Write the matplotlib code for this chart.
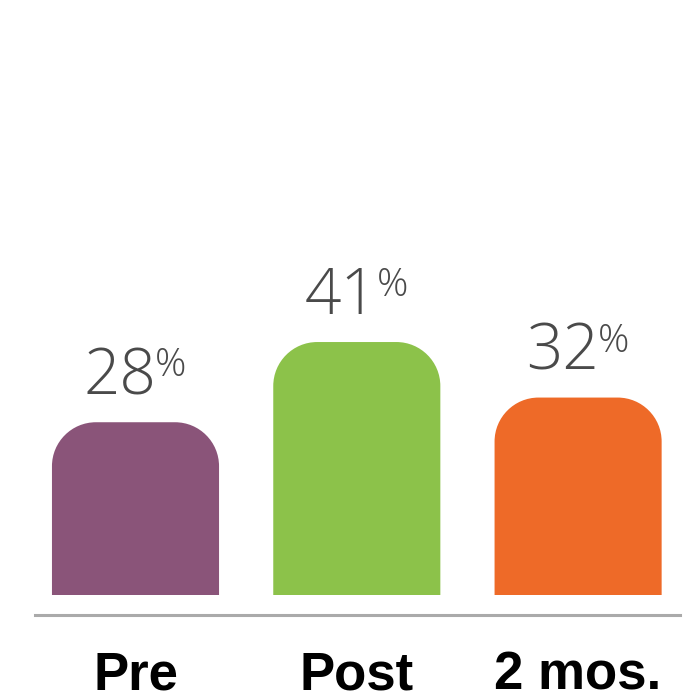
import matplotlib
matplotlib.use("Agg")
import matplotlib.pyplot as plt
from matplotlib.path import Path
from matplotlib.patches import PathPatch

# Data
categories = ["Pre", "Post", "2 mos."]
values = [28, 41, 32]
colors = ["#8a5479", "#8cc24a", "#ee6a28"]

W, H, DPI = 692, 696, 100
PX_PER_UNIT = 6.17          # vertical pixels per percentage point
BASE_PX = 101               # distance of the zero line from the figure bottom
SLOT_PX = 221.3             # horizontal pixels per category
FIRST_PX = 135.5            # centre of first bar from the left edge

fig = plt.figure(figsize=(W / DPI, H / DPI), dpi=DPI)
ax = fig.add_axes([0, 0, 1, 1])
ax.set_xlim(-FIRST_PX / SLOT_PX, (W - FIRST_PX) / SLOT_PX)
ax.set_ylim(-BASE_PX / PX_PER_UNIT, (H - BASE_PX) / PX_PER_UNIT)
ax.axis("off")

x = list(range(len(categories)))
bars = ax.bar(x, values, width=0.755, color=colors)

# Replace the square bar tops with rounded ones
radius_px = 44
rx = radius_px / SLOT_PX
ry = radius_px / PX_PER_UNIT
k = 0.5523
for b in bars:
    x0, y0 = b.get_x(), b.get_y()
    w, h = b.get_width(), b.get_height()
    x1, y1 = x0 + w, y0 + h
    verts = [
        (x0, y0),
        (x0, y1 - ry),
        (x0, y1 - ry + k * ry), (x0 + rx - k * rx, y1), (x0 + rx, y1),
        (x1 - rx, y1),
        (x1 - rx + k * rx, y1), (x1, y1 - ry + k * ry), (x1, y1 - ry),
        (x1, y0),
        (x0, y0),
    ]
    codes = [Path.MOVETO, Path.LINETO,
             Path.CURVE4, Path.CURVE4, Path.CURVE4,
             Path.LINETO,
             Path.CURVE4, Path.CURVE4, Path.CURVE4,
             Path.LINETO, Path.CLOSEPOLY]
    patch = PathPatch(Path(verts, codes), facecolor=b.get_facecolor(),
                      edgecolor="none")
    b.set_visible(False)
    ax.add_patch(patch)

# Baseline below the bars
ax.axhline(-20 / PX_PER_UNIT, xmin=35 / W, xmax=680 / W,
           color="#aaaaaa", lw=2.2)

# Category labels
for xi, cat in zip(x, categories):
    ax.text(xi, -95 / PX_PER_UNIT, cat, ha="center", va="baseline",
            fontsize=38, fontweight="bold", family="Liberation Sans",
            color="#000000")

# Value labels: large number with a superscript percent sign
fig.canvas.draw()
renderer = fig.canvas.get_renderer()
for xi, v in zip(x, values):
    ybase = v + 28 / PX_PER_UNIT
    tnum = ax.text(xi, ybase, f"{v}", ha="left", va="baseline",
                   fontsize=46, fontweight="light", family="Open Sans",
                   color="#4a4a4a")
    tpct = ax.text(xi, ybase, "%", ha="left", va="baseline",
                   fontsize=28, fontweight="light", family="Open Sans",
                   color="#4a4a4a")
    wn = tnum.get_window_extent(renderer).width
    wp = tpct.get_window_extent(renderer).width
    total = wn + wp
    cx = ax.transData.transform((xi, 0))[0]
    left = cx - total / 2
    inv = ax.transData.inverted()
    tnum.set_x(inv.transform((left, 0))[0])
    tpct.set_x(inv.transform((left + wn - 1, 0))[0])
    tpct.set_y(ybase + 18 / PX_PER_UNIT)

fig.savefig("out.png", dpi=DPI)
